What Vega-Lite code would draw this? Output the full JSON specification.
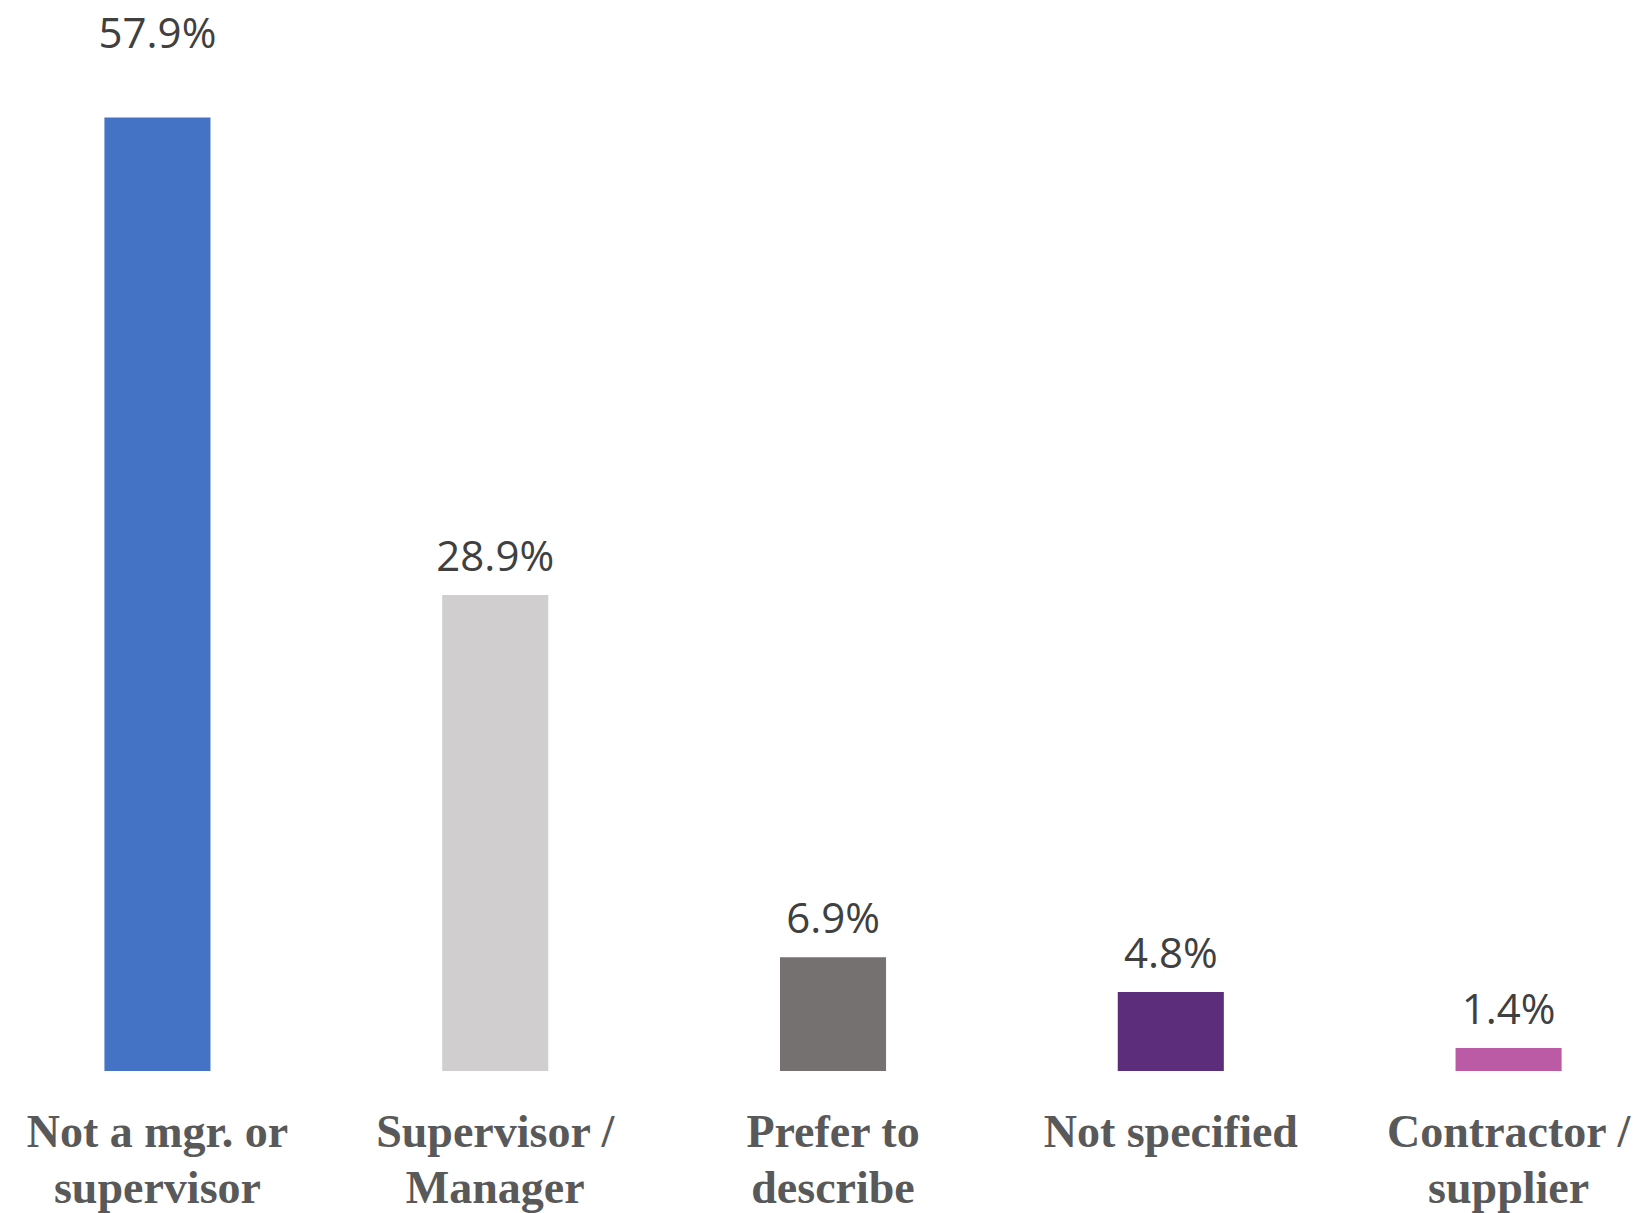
{
  "$schema": "https://vega.github.io/schema/vega-lite/v6.json",
  "width": 1645,
  "height": 1071,
  "autosize": {"type": "none"},
  "padding": {"left": 0, "top": 0, "right": 0, "bottom": 142},
  "background": "white",
  "config": {"view": {"stroke": null}},
  "data": {
    "values": [
      {"category": "Not a mgr. or|supervisor", "value": 57.9, "label": "57.9%", "color": "#4472C4"},
      {"category": "Supervisor /|Manager", "value": 28.9, "label": "28.9%", "color": "#D0CECE"},
      {"category": "Prefer to|describe", "value": 6.9, "label": "6.9%", "color": "#767171"},
      {"category": "Not specified", "value": 4.8, "label": "4.8%", "color": "#5C2D7B"},
      {"category": "Contractor /|supplier", "value": 1.4, "label": "1.4%", "color": "#BB5AA5"}
    ]
  },
  "encoding": {
    "x": {
      "field": "category",
      "type": "nominal",
      "sort": null,
      "scale": {"paddingInner": 0.686, "paddingOuter": 0.278, "align": 0.556},
      "axis": {
        "title": null,
        "domain": false,
        "ticks": false,
        "labelAngle": 0,
        "labelExpr": "split(datum.value, '|')",
        "labelFont": "Liberation Serif",
        "labelFontWeight": "bold",
        "labelFontSize": 46,
        "labelColor": "#595959",
        "labelLineHeight": 56,
        "labelPadding": 61,
        "labelBaseline": "middle",
        "labelLimit": 400
      }
    },
    "y": {
      "field": "value",
      "type": "quantitative",
      "scale": {"domain": [0, 65.03], "nice": false},
      "axis": null
    }
  },
  "layer": [
    {
      "mark": {"type": "bar"},
      "encoding": {
        "color": {"field": "color", "type": "nominal", "scale": null, "legend": null}
      }
    },
    {
      "transform": [{"filter": "datum.value < 50"}],
      "mark": {"type": "text", "baseline": "middle", "dy": -37, "font": "Open Sans", "fontSize": 42, "color": "#404040"},
      "encoding": {"text": {"field": "label"}}
    },
    {
      "transform": [{"filter": "datum.value >= 50"}],
      "mark": {"type": "text", "baseline": "middle", "dy": -82, "font": "Open Sans", "fontSize": 42, "color": "#404040"},
      "encoding": {"text": {"field": "label"}}
    }
  ]
}
